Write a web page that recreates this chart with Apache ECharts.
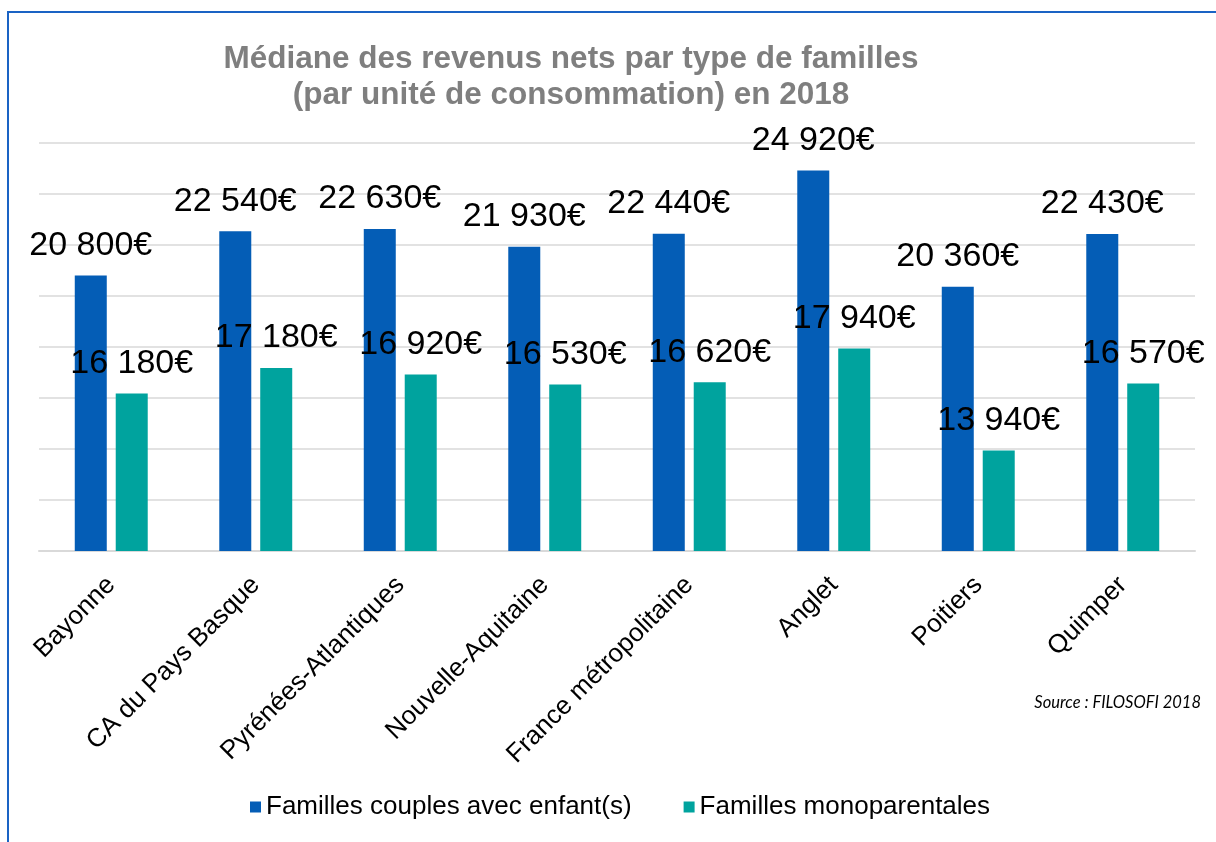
<!DOCTYPE html>
<html>
<head>
<meta charset="utf-8">
<script src="https://cdn.jsdelivr.net/npm/echarts@6/dist/echarts.min.js"></script>
<style>
  html, body { margin: 0; padding: 0; background: #fff; }
  #chart { width: 1216px; height: 842px; }
</style>
</head>
<body>
<div id="chart"></div>
<script>
var categories = ["Bayonne", "CA du Pays Basque", "Pyrénées-Atlantiques", "Nouvelle-Aquitaine",
  "France métropolitaine", "Anglet", "Poitiers", "Quimper"];
var couples = [20800, 22540, 22630, 21930, 22440, 24920, 20360, 22430];
var monoparentales = [16180, 17180, 16920, 16530, 16620, 17940, 13940, 16570];
var seriesNames = ["Familles couples avec enfant(s)", "Familles monoparentales"];

var chart = echarts.init(document.getElementById("chart"));

function euro(p) {
  // 20800 -> "20 800€"
  return String(p.value).replace(/\B(?=(\d{3})+(?!\d))/g, " ") + "€";
}

var labelStyle = {
  show: true,
  position: "top",
  distance: 13,
  formatter: euro,
  color: "#000",
  fontSize: 34,
  fontFamily: "Liberation Sans, Arial, sans-serif"
};

var option = {
  animation: false,
  backgroundColor: "#fff",
  title: {
    text: "Médiane des revenus nets par type de familles\n(par unité de consommation) en 2018",
    left: 566,
    top: 36,
    textAlign: "center",
    textStyle: {
      color: "#7f7f7f",
      fontSize: 31.5,
      fontWeight: "bold",
      lineHeight: 36,
      fontFamily: "Liberation Sans, Arial, sans-serif"
    }
  },
  legend: {
    data: seriesNames,
    bottom: 17,
    left: 245,
    itemWidth: 11,
    itemHeight: 11,
    itemGap: 52,
    icon: "rect",
    textStyle: {
      color: "#000",
      fontSize: 26,
      fontFamily: "Liberation Sans, Arial, sans-serif"
    }
  },
  grid: {
    left: 39,
    right: 21,
    top: 143,
    bottom: 291,
    containLabel: false
  },
  xAxis: {
    type: "category",
    data: categories,
    axisTick: { show: false },
    axisLine: { lineStyle: { color: "#d9d9d9", width: 2 } },
    axisLabel: {
      rotate: 45,
      margin: 30,
      interval: 0,
      color: "#000",
      fontSize: 26,
      fontFamily: "Liberation Sans, Arial, sans-serif"
    }
  },
  yAxis: {
    type: "value",
    min: 10000,
    max: 26000,
    interval: 2000,
    axisLabel: { show: false },
    axisLine: { show: false },
    axisTick: { show: false },
    splitLine: { lineStyle: { color: "#d9d9d9", width: 1.5 } }
  },
  graphic: [
    {
      type: "rect",
      shape: { x: 8, y: 12, width: 1400, height: 1000 },
      style: { fill: null, stroke: "#1a63c4", lineWidth: 2 },
      silent: true
    },
    {
      type: "text",
      right: 15,
      top: 694,
      style: {
        text: "Source : FILOSOFI 2018",
        fill: "#000",
        fontSize: 16.5,
        fontStyle: "italic",
        fontFamily: "Lato, Open Sans, sans-serif"
      }
    }
  ],
  series: [
    {
      name: seriesNames[0],
      type: "bar",
      data: couples,
      barWidth: 32,
      barGap: "28%",
      itemStyle: { color: "#045db6" },
      label: labelStyle
    },
    {
      name: seriesNames[1],
      type: "bar",
      data: monoparentales,
      barWidth: 32,
      itemStyle: { color: "#00a39e" },
      label: labelStyle
    }
  ]
};

chart.setOption(option);
</script>
</body>
</html>
